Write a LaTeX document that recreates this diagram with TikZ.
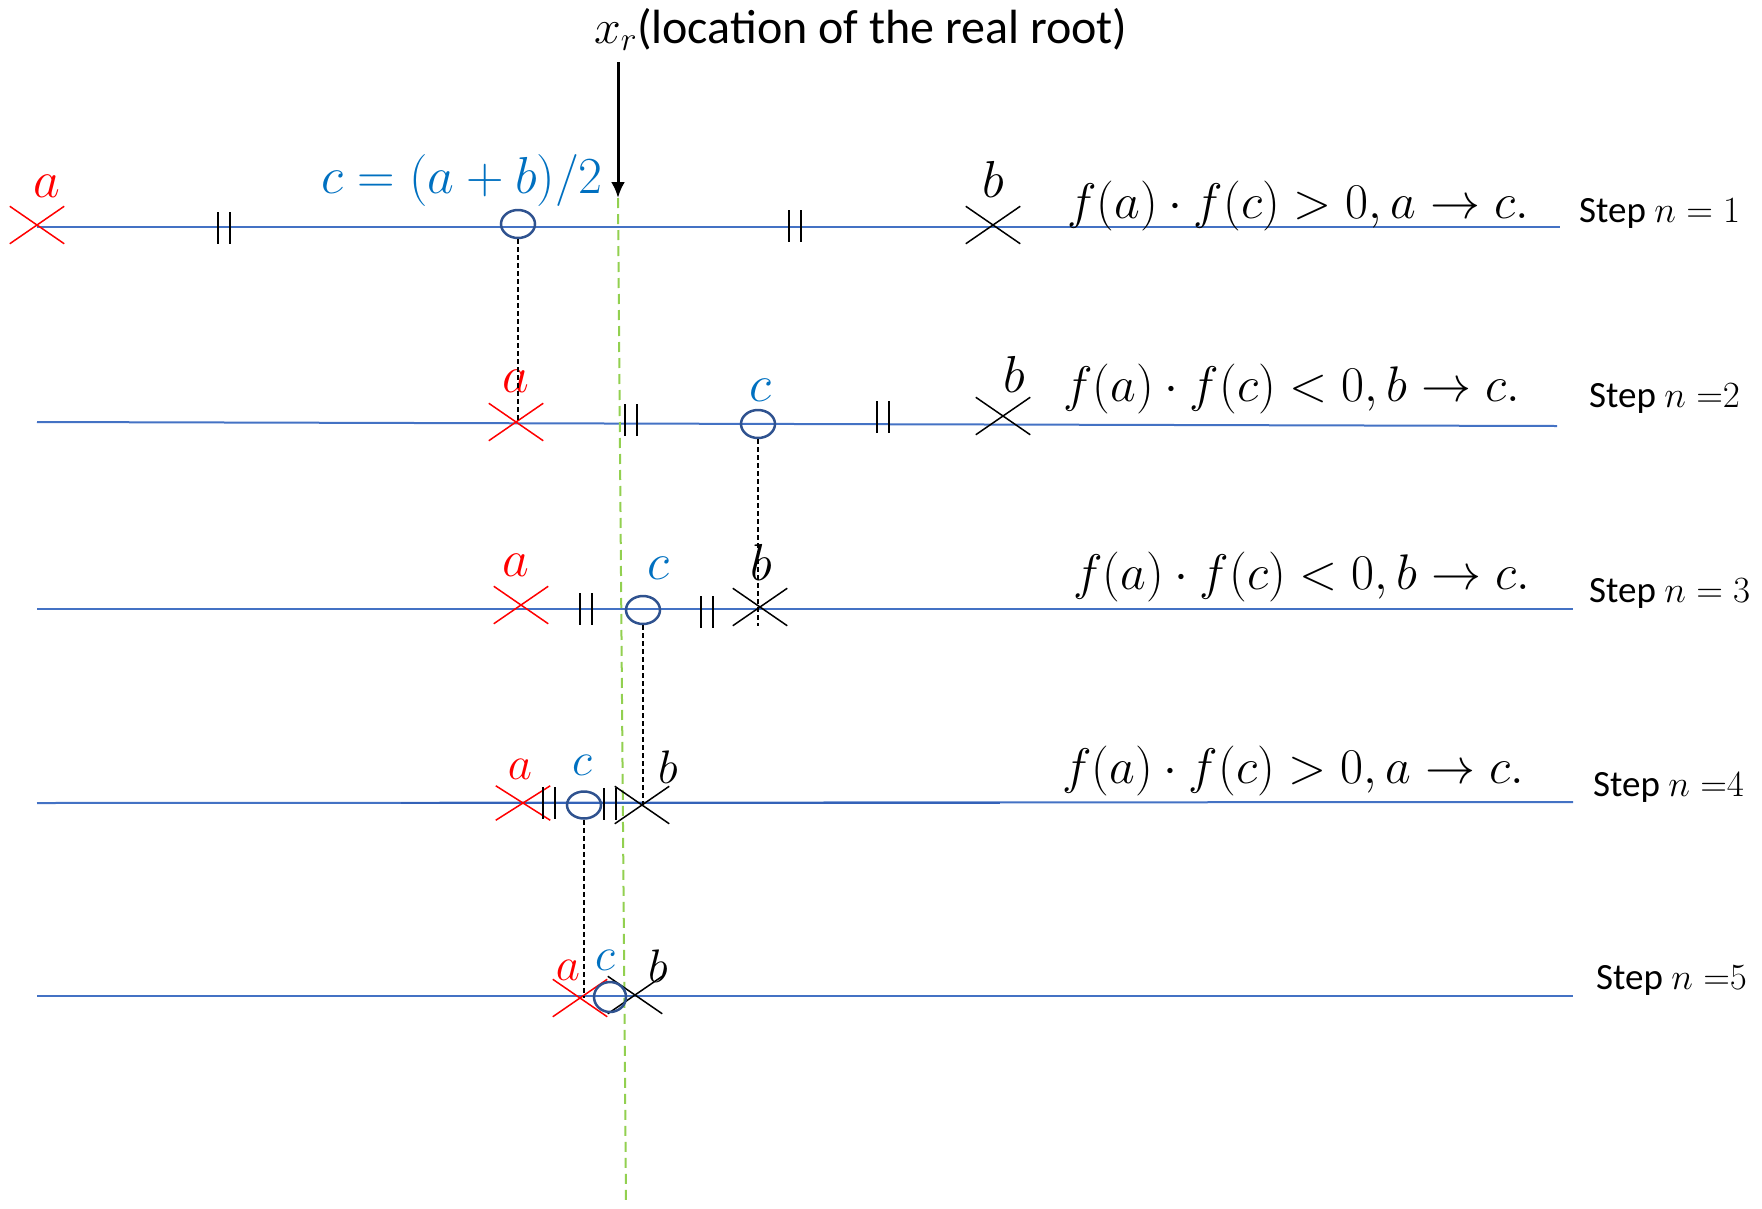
\RequirePackage{fix-cm}
\documentclass[tikz,border=0pt]{standalone}
\usepackage{fontspec}
\setmainfont{Carlito}
\usetikzlibrary{shapes.misc,shapes.geometric,arrows.meta}
\definecolor{lineblue}{RGB}{68,114,196}
\definecolor{linedark}{RGB}{52,98,184}
\definecolor{lblue}{RGB}{0,112,192}
\definecolor{circblue}{RGB}{47,82,143}
\definecolor{rootgreen}{RGB}{146,208,80}
\definecolor{xred}{RGB}{255,0,0}
\tikzset{
  numline/.style={draw=lineblue, line width=2pt},
  redx/.style={cross out, draw=xred, line width=1.5pt, inner sep=0pt, minimum width=53pt, minimum height=36pt},
  blackx/.style={cross out, draw=black, line width=1.5pt, inner sep=0pt, minimum width=53pt, minimum height=36pt},
  cmark/.style={ellipse, draw=circblue, line width=2.5pt, inner sep=0pt, minimum width=34pt, minimum height=28pt},
  lbl/.style={inner sep=0pt, anchor=base, font=\fontsize{52}{56}\selectfont},
  lbls/.style={inner sep=0pt, anchor=base, font=\fontsize{47}{51}\selectfont},
  formula/.style={inner sep=0pt, anchor=base west, font=\fontsize{50}{54}\selectfont},
  steplbl/.style={inner sep=0pt, anchor=base west, font=\fontsize{37}{40}\selectfont},
  conn/.style={draw=black, line width=1.2pt, dash pattern=on 5pt off 3pt},
  pics/ticks/.style={code={
    \draw[line width=2.5pt] (-6,-16) -- (-6,16);
    \draw[line width=2.5pt] (6,-16) -- (6,16);
  }}
}
\begin{document}
\begin{tikzpicture}[x=1pt,y=-1pt]
\useasboundingbox (0,0) rectangle (1762,1208);

% number lines
\coordinate (l1w) at (37,227);  \coordinate (l1e) at (1560,227);
\coordinate (l2w) at (37,422);  \coordinate (l2e) at (1557,426);
\coordinate (l3w) at (37,609);  \coordinate (l3e) at (1573,609);
\coordinate (l4w) at (37,803);  \coordinate (l4e) at (1573,802);
\coordinate (l5w) at (37,996);  \coordinate (l5e) at (1573,996);
\coordinate (l4dw) at (401,803); \coordinate (l4de) at (1000,803);
\draw[numline] (l1w) -- (l1e);
\draw[numline] (l2w) -- (l2e);
\draw[numline] (l3w) -- (l3e);
\draw[numline] (l4w) -- (l4e);
\draw[draw=linedark, line width=2pt] (l4dw) -- (l4de);
\draw[numline] (l5w) -- (l5e);

% root marker
\node[inner sep=0pt, anchor=base west, font=\fontsize{48}{52}\selectfont] (title) at (594,43) {$x_r$(location of the real root)};
\coordinate (arrtop) at (618,62);
\coordinate (root) at (618,198);
\coordinate (rootbot) at (626,1202);
\draw[rootgreen, line width=2pt, dash pattern=on 10pt off 6pt] (root) -- (rootbot);
\draw[line width=3pt, -{Latex[length=16pt,width=14pt]}] (arrtop) -- (root);

% step 1
\node[redx] (a1) at (37,225) {};
\node[blackx] (b1) at (993,225) {};
\node[cmark] (c1) at (518,224) {};
\pic at (224,228) {ticks};
\pic at (795,226) {ticks};
\node[lbl, text=xred] (la1) at (47,197) {$a$};
\node[lbl, text=lblue] (lc1) at (462,193) {$c=(a+b)/2$};
\node[lbl] (lb1) at (993,197) {$b$};
\node[formula] (f1) at (1067,218) {$f(a)\cdot f(c) > 0, a \to c.$};
\node[steplbl] (s1) at (1579,222) {Step $n = 1$};

% step 2
\node[redx] (a2) at (516,422) {};
\node[blackx] (b2) at (1003,416) {};
\node[cmark] (c2) at (758,424) {};
\pic at (631,420) {ticks};
\pic at (883,417) {ticks};
\node[lbl, text=xred] (la2) at (516,392) {$a$};
\node[lbl, text=lblue] (lc2) at (760,401) {$c$};
\node[lbl] (lb2) at (1014,392) {$b$};
\node[formula] (f2) at (1063,401) {$f(a)\cdot f(c) < 0, b \to c.$};
\node[steplbl] (s2) at (1589,407) {Step $n =$\hbox{$2$}};

% step 3
\node[redx] (a3) at (521,605) {};
\node[blackx] (b3) at (760,607) {};
\node[cmark] (c3) at (643,610) {};
\pic at (586,609) {ticks};
\pic at (707,612) {ticks};
\node[lbl, text=xred] (la3) at (516,576) {$a$};
\node[lbl, text=lblue] (lc3) at (658,579) {$c$};
\node[lbl] (lb3) at (761,580) {$b$};
\node[formula] (f3) at (1073,589) {$f(a)\cdot f(c) < 0, b \to c.$};
\node[steplbl] (s3) at (1589,602) {Step $n = 3$};

% step 4
\node[redx, minimum height=33pt] (a4) at (523,803) {};
\node[blackx] (b4) at (642,805) {};
\node[cmark, minimum height=27pt] (c4) at (584,805) {};
\pic at (549,803) {ticks};
\pic at (610,804) {ticks};
\node[lbls, text=xred] (la4) at (520,779) {$a$};
\node[lbls, text=lblue] (lc4) at (582,775) {$c$};
\node[lbls] (lb4) at (668,783) {$b$};
\node[formula] (f4) at (1062,783) {$f(a)\cdot f(c) > 0, a \to c.$};
\node[steplbl] (s4) at (1593,796) {Step $n =$\hbox{$4$}};

% step 5
\node[redx] (a5) at (580,998) {};
\node[blackx] (b5) at (635,995) {};
\node[cmark, minimum width=32pt, minimum height=30pt] (c5) at (610,997) {};
\node[lbls, text=xred] (la5) at (568,980) {$a$};
\node[lbls, text=lblue] (lc5) at (605,970) {$c$};
\node[lbls] (lb5) at (658,982) {$b$};
\node[steplbl] (s5) at (1596,989) {Step $n =$\hbox{$5$}};

% projections of c
\draw[conn] (c1.south) -- (c1.south |- a2.center);
\draw[conn] (c2.south) -- (c2.south |- b3.south);
\draw[conn] (c3.south) -- (c3.south |- b4.center);
\draw[conn] (c4.south) -- (c4.south |- a5.center);
\end{tikzpicture}
\end{document}
